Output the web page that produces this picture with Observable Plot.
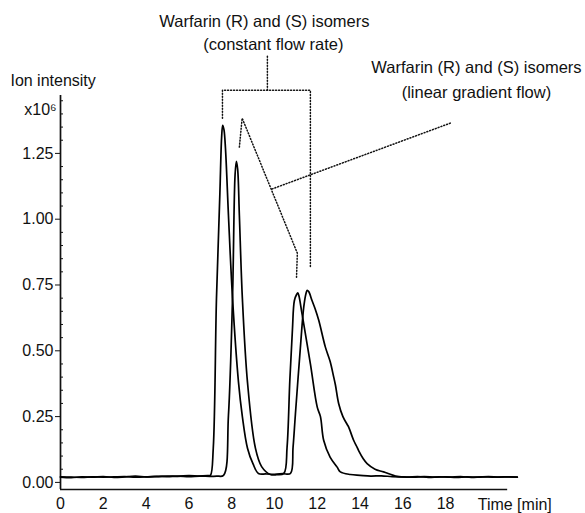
<!DOCTYPE html>
<html>
<head>
<meta charset="utf-8">
<script src="https://cdn.jsdelivr.net/npm/d3@7"></script>
<script src="https://cdn.jsdelivr.net/npm/@observablehq/plot@0.6"></script>
<style>
  html, body { margin: 0; padding: 0; background: #fff; }
  svg { display: block; }
</style>
</head>
<body>
<div id="chart"></div>
<script>
// ---- Data ----
// Constant flow rate chromatogram
const constTime = [0, 0.5, 1, 1.5, 2, 2.5, 3, 3.5, 4, 4.5, 5, 5.5, 6, 6.5, 6.9, 7.01, 7.14, 7.29, 7.45, 7.53, 7.58, 7.64, 7.71, 7.85, 8.04, 8.32, 8.5, 8.74, 9.0, 9.25, 9.6, 10.0, 10.4, 10.75, 10.87, 10.98, 11.21, 11.37, 11.48, 11.53, 11.6, 11.76, 11.9, 12.07, 12.38, 12.6, 12.77, 12.85, 13.0, 13.2, 13.4, 13.47, 13.7, 13.86, 13.94, 14.15, 14.33, 14.7, 15.1, 15.73, 16.2, 16.7, 17.2, 17.7, 18.2, 18.7, 19.2, 19.7, 20.2, 20.7, 21.35];
const constValue = [0.02, 0.018, 0.021, 0.02, 0.022, 0.019, 0.021, 0.024, 0.021, 0.022, 0.024, 0.023, 0.026, 0.024, 0.026, 0.027, 0.13, 0.70, 1.10, 1.31, 1.357, 1.34, 1.27, 1.015, 0.70, 0.38, 0.25, 0.13, 0.07, 0.034, 0.032, 0.031, 0.033, 0.034, 0.134, 0.26, 0.51, 0.667, 0.72, 0.73, 0.725, 0.69, 0.66, 0.616, 0.514, 0.46, 0.40, 0.37, 0.30, 0.25, 0.22, 0.21, 0.16, 0.134, 0.12, 0.09, 0.071, 0.05, 0.04, 0.023, 0.02, 0.022, 0.019, 0.021, 0.02, 0.022, 0.019, 0.021, 0.02, 0.021, 0.02];

// Linear gradient flow chromatogram
const gradTime = [0, 0.5, 1, 1.5, 2, 2.5, 3, 3.5, 4, 4.5, 5, 5.5, 6, 6.5, 7.0, 7.3, 7.62, 7.85, 8.04, 8.16, 8.22, 8.28, 8.36, 8.5, 8.74, 9.11, 9.4, 9.81, 10.1, 10.44, 10.59, 10.72, 10.84, 10.93, 11.04, 11.09, 11.14, 11.29, 11.68, 12.0, 12.15, 12.3, 12.6, 12.93, 13.08, 13.55, 14.0, 14.5, 15.0, 15.5, 16.0, 16.5, 17.0, 17.5, 18.0, 18.5, 19.0, 19.5, 20.0, 20.5, 21.0, 21.35];
const gradValue = [0.021, 0.02, 0.019, 0.021, 0.02, 0.021, 0.022, 0.02, 0.021, 0.023, 0.022, 0.024, 0.022, 0.024, 0.023, 0.024, 0.027, 0.255, 0.70, 1.17, 1.22, 1.19, 1.015, 0.70, 0.38, 0.13, 0.06, 0.03, 0.029, 0.034, 0.134, 0.39, 0.58, 0.69, 0.715, 0.72, 0.71, 0.64, 0.45, 0.286, 0.25, 0.16, 0.096, 0.058, 0.04, 0.03, 0.027, 0.024, 0.025, 0.022, 0.021, 0.02, 0.022, 0.02, 0.021, 0.019, 0.021, 0.02, 0.022, 0.02, 0.021, 0.02];

// Axis ticks
const xTicks = [0, 2, 4, 6, 8, 10, 12, 14, 16, 18];
const yTicks = [0, 0.25, 0.5, 0.75, 1.0, 1.25];
const yMinorTicks = [0.05, 0.1, 0.15, 0.2, 0.3, 0.35, 0.4, 0.45, 0.55, 0.6, 0.65, 0.7, 0.8, 0.85, 0.9, 0.95, 1.05, 1.1, 1.15, 1.2, 1.3, 1.35, 1.4, 1.45];

// Annotation bracket paths (data units: time, intensity)
const constBracketT = [7.57, 7.57, 11.68, 11.68];
const constBracketV = [1.384, 1.49, 1.49, 0.817];
const constStemT = [9.67, 9.67];
const constStemV = [1.49, 1.624];
const gradBracketT = [8.36, 8.49, 11.07, 11.03];
const gradBracketV = [1.274, 1.384, 0.871, 0.776];
const connectorT = [18.22, 9.86];
const connectorV = [1.365, 1.114];

// Annotation texts
const annoText = ["Warfarin (R) and (S) isomers", "(constant flow rate)", "Warfarin (R) and (S) isomers", "(linear gradient flow)"];
const annoT = [9.53, 9.95, 19.44, 19.44];
const annoV = [1.749, 1.662, 1.574, 1.479];

const labelText = ["Ion intensity", "x10\u2076", "Time [min]"];

// ---- Build tables ----
const constData = constTime.map((t, i) => ({t, v: constValue[i]}));
const gradData = gradTime.map((t, i) => ({t, v: gradValue[i]}));
const toPts = (T, V) => T.map((t, i) => ({t, v: V[i]}));

const X_MAX = 21.5, Y_MIN = -0.027, Y_MAX = 1.47;
const font = "'Liberation Sans', Arial, Helvetica, sans-serif";
const dotted = {stroke: "#111", strokeWidth: 1.5, strokeDasharray: "1,2"};

const chart = Plot.plot({
  width: 585,
  height: 513,
  marginLeft: 60,
  marginRight: 65,
  marginTop: 95,
  marginBottom: 24,
  style: {fontFamily: font, fontSize: "16px", color: "#111", background: "#fff"},
  x: {domain: [0, X_MAX], axis: null},
  y: {domain: [Y_MIN, Y_MAX], axis: null},
  marks: [
    // axes lines
    Plot.ruleX([0], {y1: Y_MIN, y2: Y_MAX, stroke: "#111", strokeWidth: 1.7}),
    Plot.ruleY([Y_MIN], {x1: 0, x2: 20.9, stroke: "#111", strokeWidth: 1.7}),
    Plot.axisY({ticks: yTicks, tickFormat: d3.format(".2f"), tickSize: 5, tickPadding: 2, fontSize: 16, label: null, stroke: "#111"}),
    Plot.axisY({ticks: yMinorTicks, tickSize: -3, text: null, label: null, stroke: "#111"}),
    Plot.axisX({ticks: xTicks, tickSize: 0, tickPadding: 8, fontSize: 16, label: null}),
    // chromatograms
    Plot.line(constData, {x: "t", y: "v", stroke: "#000", strokeWidth: 1.7, strokeLinejoin: "round", curve: "catmull-rom"}),
    Plot.line(gradData, {x: "t", y: "v", stroke: "#000", strokeWidth: 1.7, strokeLinejoin: "round", curve: "catmull-rom"}),
    // annotation lines
    Plot.line(toPts(constBracketT, constBracketV), {x: "t", y: "v", ...dotted}),
    Plot.line(toPts(constStemT, constStemV), {x: "t", y: "v", ...dotted}),
    Plot.line(toPts(gradBracketT, gradBracketV), {x: "t", y: "v", ...dotted}),
    Plot.line(toPts(connectorT, connectorV), {x: "t", y: "v", ...dotted}),
    // annotation text
    Plot.text(annoText, {x: (d, i) => annoT[i], y: (d, i) => annoV[i], text: d => d, fontSize: 16.5, fill: "#111", textAnchor: "middle"}),
    // axis titles
    Plot.text([labelText[0]], {x: -2.34, y: 1.525, text: d => d, textAnchor: "start", fontSize: 16, fill: "#111"}),
    Plot.text([labelText[1]], {x: -0.18, y: 1.414, text: d => d, textAnchor: "end", fontSize: 16, fill: "#111"}),
    Plot.text([labelText[2]], {x: 19.5, y: -0.085, text: d => d, textAnchor: "start", fontSize: 16, fill: "#111"})
  ]
});
document.getElementById("chart").appendChild(chart);
</script>
</body>
</html>
